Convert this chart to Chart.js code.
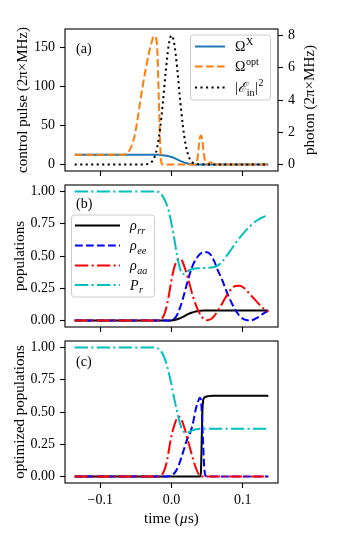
<!DOCTYPE html>
<html>
<head>
<meta charset="utf-8">
<script src="https://cdn.jsdelivr.net/npm/chart.js@4.4.0/dist/chart.umd.min.js"></script>
<style>
  body { margin: 0; background: #fff; }
  #wrap { position: relative; width: 340px; height: 540px; }
  canvas { position: absolute; left: 0; top: 0; }
</style>
</head>
<body>
<div id="wrap">
  <canvas id="chartA" width="340" height="540"></canvas>
  <canvas id="chartB" width="340" height="540"></canvas>
  <canvas id="chartC" width="340" height="540"></canvas>
</div>
<script>
// ticks
const xTicks = [-0.1, 0, 0.1];
const xTickLabels = ['\u22120.1', '0.0', '0.1'];
const ctrlTicks = [0, 50, 100, 150];
const ctrlTickLabels = ['0', '50', '100', '150'];
const photonTicks = [0, 2, 4, 6, 8];
const photonTickLabels = ['0', '2', '4', '6', '8'];
const popTicks = [0, 0.25, 0.5, 0.75, 1];
const popTickLabels = ['0.00', '0.25', '0.50', '0.75', '1.00'];

// panel (a)
const tOmegaX = [-0.136, -0.025, -0.02, -0.015, -0.01, -0.005, 0, 0.005, 0.01, 0.015, 0.02, 0.025, 0.03, 0.136];
const omegaX = [12.5, 12.5, 12.4, 12.2, 11.7, 10.9, 9.6, 7.8, 5.7, 3.7, 1.9, 0.7, 0.1, 0];
const tOmegaOpt = [-0.136, -0.068, -0.064, -0.06, -0.056, -0.052, -0.048, -0.044, -0.04, -0.036, -0.032, -0.028, -0.025, -0.022, -0.02, -0.018, -0.016, -0.0145, -0.013, 0.034, 0.036, 0.038, 0.04, 0.0415, 0.043, 0.045, 0.047, 0.049, 0.051, 0.054, 0.057, 0.06, 0.136];
const omegaOpt = [12.5, 12.5, 13.5, 16.5, 24, 36, 56, 80, 103, 123, 141, 156, 164, 162, 148, 90, 28, 4, 0, 0, 4, 20, 35, 37, 33, 17, 5, 1, 0, 3, 2, 0, 0];
const tPhoton = [-0.136, -0.044, -0.04, -0.036, -0.032, -0.028, -0.024, -0.02, -0.016, -0.012, -0.008, -0.004, 0, 0.004, 0.008, 0.012, 0.016, 0.02, 0.024, 0.028, 0.032, 0.036, 0.04, 0.044, 0.136];
const photon = [0, 0, 0.01, 0.02, 0.05, 0.16, 0.45, 1.08, 2.22, 3.89, 5.81, 7.38, 8.0, 7.45, 5.95, 4.05, 2.4, 1.2, 0.52, 0.19, 0.06, 0.02, 0.01, 0, 0];

// panel (b)
const tRrB = [-0.136, -0.002, 0.004, 0.008, 0.012, 0.016, 0.02, 0.024, 0.028, 0.032, 0.036, 0.04, 0.045, 0.05, 0.136];
const rrB = [0, 0, 0.004, 0.01, 0.018, 0.028, 0.04, 0.051, 0.06, 0.067, 0.072, 0.075, 0.077, 0.078, 0.078];
const tEeB = [-0.136, -0.004, 0, 0.004, 0.008, 0.012, 0.016, 0.02, 0.025, 0.03, 0.035, 0.04, 0.045, 0.05, 0.055, 0.06, 0.065, 0.07, 0.075, 0.08, 0.085, 0.09, 0.095, 0.1, 0.105, 0.11, 0.115, 0.12, 0.125, 0.13, 0.136];
const eeB = [0, 0, 0.003, 0.015, 0.045, 0.1, 0.17, 0.25, 0.35, 0.43, 0.48, 0.515, 0.53, 0.53, 0.51, 0.46, 0.39, 0.33, 0.26, 0.19, 0.13, 0.08, 0.04, 0.015, 0.004, 0.0, 0.006, 0.02, 0.038, 0.058, 0.075];
const tAaB = [-0.136, -0.018, -0.014, -0.01, -0.006, -0.002, 0.002, 0.006, 0.01, 0.014, 0.018, 0.022, 0.026, 0.03, 0.035, 0.04, 0.045, 0.05, 0.055, 0.06, 0.065, 0.07, 0.075, 0.08, 0.085, 0.09, 0.095, 0.1, 0.105, 0.11, 0.115, 0.12, 0.125, 0.13, 0.136];
const aaB = [0, 0, 0.01, 0.05, 0.13, 0.25, 0.37, 0.445, 0.478, 0.47, 0.42, 0.35, 0.27, 0.19, 0.11, 0.05, 0.015, 0.003, 0.01, 0.035, 0.075, 0.12, 0.17, 0.215, 0.25, 0.268, 0.27, 0.26, 0.235, 0.205, 0.175, 0.145, 0.115, 0.09, 0.07];
const tPrB = [-0.136, -0.024, -0.02, -0.016, -0.012, -0.008, -0.004, 0, 0.004, 0.008, 0.012, 0.016, 0.02, 0.025, 0.03, 0.04, 0.05, 0.06, 0.065, 0.07, 0.08, 0.09, 0.1, 0.11, 0.12, 0.13, 0.136];
const prB = [1.0, 1.0, 0.998, 0.99, 0.96, 0.915, 0.85, 0.75, 0.63, 0.5, 0.4, 0.36, 0.37, 0.39, 0.4, 0.405, 0.408, 0.415, 0.425, 0.45, 0.52, 0.6, 0.67, 0.73, 0.775, 0.805, 0.815];

// panel (c)
const tRrC = [-0.136, 0.0405, 0.0415, 0.0425, 0.0435, 0.0445, 0.046, 0.048, 0.052, 0.058, 0.136];
const rrC = [0, 0, 0.05, 0.3, 0.52, 0.59, 0.61, 0.618, 0.623, 0.625, 0.625];
const tEeC = [-0.136, -0.006, -0.002, 0.002, 0.006, 0.01, 0.014, 0.018, 0.022, 0.026, 0.03, 0.034, 0.037, 0.0395, 0.041, 0.042, 0.043, 0.044, 0.045, 0.046, 0.0475, 0.05, 0.136];
const eeC = [0, 0, 0.005, 0.015, 0.04, 0.085, 0.15, 0.22, 0.29, 0.335, 0.41, 0.52, 0.575, 0.61, 0.6, 0.55, 0.45, 0.32, 0.18, 0.07, 0.01, 0, 0];
const tAaC = [-0.136, -0.018, -0.014, -0.01, -0.006, -0.002, 0.002, 0.006, 0.01, 0.014, 0.018, 0.022, 0.026, 0.03, 0.034, 0.038, 0.041, 0.136];
const aaC = [0, 0, 0.01, 0.05, 0.13, 0.26, 0.36, 0.43, 0.465, 0.44, 0.38, 0.3, 0.22, 0.14, 0.07, 0.02, 0, 0];
const tPrC = [-0.136, -0.024, -0.02, -0.016, -0.012, -0.008, -0.004, 0, 0.004, 0.008, 0.012, 0.016, 0.02, 0.025, 0.03, 0.035, 0.04, 0.136];
const prC = [1.0, 1.0, 0.995, 0.98, 0.945, 0.89, 0.81, 0.71, 0.6, 0.5, 0.41, 0.355, 0.338, 0.345, 0.36, 0.367, 0.37, 0.37];

// legend labels (rich text pieces)
const labelsA = [
  [{t: '\u03a9'}, {t: 'X', sup: 1}],
  [{t: '\u03a9'}, {t: 'opt', sup: 1}],
  [{t: '|'}, {t: '\u2130', it: 1}, {t: 'in', sub: 1}, {t: '|'}, {t: '2', sup: 1}]
];
const labelsB = [
  [{t: '\u03c1', it: 1}, {t: 'rr', sub: 1, it: 1}],
  [{t: '\u03c1', it: 1}, {t: 'ee', sub: 1, it: 1}],
  [{t: '\u03c1', it: 1}, {t: 'aa', sub: 1, it: 1}],
  [{t: 'P', it: 1}, {t: 'r', sub: 1, it: 1}]
];
const timeTitle = [{t: 'time ('}, {t: '\u03bc', it: 1}, {t: 's)'}];

const FONT = '"Liberation Serif", "Times New Roman", serif';
Chart.defaults.font.family = FONT;
Chart.defaults.font.size = 14;
Chart.defaults.color = '#000';
Chart.defaults.animation = false;

const DASHED = [7.7, 3.3];
const DASHDOT = [13.3, 3.3, 2.1, 3.3];
const DOTTED = [2.1, 3.4];

function pts(t, v) {
  return t.map((x, i) => ({x: x, y: v[i]}));
}

function line(label, t, v, color, dash, order, axis) {
  return {
    label: label,
    data: pts(t, v),
    borderColor: color,
    borderDash: dash,
    borderWidth: 2,
    pointRadius: 0,
    cubicInterpolationMode: 'monotone',
    fill: false,
    order: order,
    yAxisID: axis || 'y'
  };
}

const tickGrid = { drawOnChartArea: false, drawTicks: true, tickLength: 5, tickWidth: 1.1, tickColor: '#000' };

function xAxis(h, showLabels) {
  return {
    type: 'linear', min: -0.1496, max: 0.1496,
    afterBuildTicks: s => { s.ticks = xTicks.map(v => ({value: v})); },
    afterFit: s => { s.height = h; },
    grid: tickGrid,
    border: { display: false },
    ticks: { display: showLabels, padding: 4, maxRotation: 0, autoSkip: false, callback: (v, i) => xTickLabels[i] }
  };
}

function yAxis(pos, min, max, vals, labels, w, title, titlePad) {
  return {
    type: 'linear', position: pos, min: min, max: max,
    afterBuildTicks: s => { s.ticks = vals.map(v => ({value: v})); },
    afterFit: s => { s.width = w; },
    grid: tickGrid,
    border: { display: false },
    ticks: { padding: 5, autoSkip: false, callback: (v, i) => labels[i] },
    title: { display: !!title, text: title, font: { size: 15 }, padding: { top: titlePad, bottom: 0 } }
  };
}

const decor = {
  chartA: {
    tag: '(a)', tagX: 76, tagY: 53,
    legend: { x: 190.5, y: 35, w: 80, h: 65, x0: 195, x1: 225, tx: 235, rows: [46.5, 66.5, 87.5] },
    labels: labelsA,
    rightTitle: { text: 'photon (2\u03c0\u00d7MHz)', x: 310, y: 100 }
  },
  chartB: {
    tag: '(b)', tagX: 76, tagY: 207.5,
    legend: { x: 71.5, y: 215, w: 83, h: 82, x0: 75, x1: 120, tx: 130, rows: [225.5, 245.5, 265.5, 285] },
    labels: labelsB
  },
  chartC: { tag: '(c)', tagX: 76, tagY: 366, bottomTitle: { parts: timeTitle, x: 171.7, y: 523 } }
};

function richWidth(ctx, parts, size) {
  let w = 0;
  parts.forEach(p => {
    const s = (p.sub || p.sup) ? size * 0.72 : size;
    ctx.font = (p.it ? 'italic ' : '') + s + 'px ' + FONT;
    w += ctx.measureText(p.t).width + 0.5;
  });
  return w;
}

function drawRich(ctx, parts, x, y, size) {
  size = size || 14;
  parts.forEach(p => {
    const s = (p.sub || p.sup) ? size * 0.72 : size;
    ctx.font = (p.it ? 'italic ' : '') + s + 'px ' + FONT;
    const dy = p.sub ? 3.5 : p.sup ? -6 : 0;
    ctx.fillText(p.t, x, y + dy);
    x += ctx.measureText(p.t).width + 0.5;
  });
}

const panelDecor = {
  id: 'panelDecor',
  afterDatasetsDraw(chart) {
    const d = decor[chart.canvas.id];
    const ctx = chart.ctx, a = chart.chartArea;
    ctx.save();
    ctx.setLineDash([]);
    ctx.strokeStyle = '#000';
    ctx.lineWidth = 1.1;
    ctx.strokeRect(a.left, a.top, a.right - a.left, a.bottom - a.top);
    ctx.fillStyle = '#000';
    ctx.textBaseline = 'alphabetic';
    ctx.textAlign = 'left';
    ctx.font = '14px ' + FONT;
    ctx.fillText(d.tag, d.tagX, d.tagY);
    if (d.rightTitle) {
      ctx.save();
      ctx.translate(d.rightTitle.x, d.rightTitle.y);
      ctx.rotate(-Math.PI / 2);
      ctx.font = '15px ' + FONT;
      ctx.textAlign = 'center';
      ctx.textBaseline = 'middle';
      ctx.fillText(d.rightTitle.text, 0, 0);
      ctx.restore();
    }
    if (d.bottomTitle) {
      const b = d.bottomTitle;
      const w = richWidth(ctx, b.parts, 15);
      drawRich(ctx, b.parts, b.x - w / 2, b.y, 15);
    }
    if (d.legend) {
      const L = d.legend;
      ctx.beginPath();
      ctx.roundRect(L.x, L.y, L.w, L.h, 3);
      ctx.fillStyle = 'rgba(255,255,255,0.8)';
      ctx.fill();
      ctx.strokeStyle = '#cccccc';
      ctx.lineWidth = 1;
      ctx.stroke();
      L.rows.forEach((ry, i) => {
        const ds = chart.data.datasets[i];
        ctx.beginPath();
        ctx.setLineDash(ds.borderDash || []);
        ctx.strokeStyle = ds.borderColor;
        ctx.lineWidth = ds.borderWidth;
        ctx.moveTo(L.x0, ry);
        ctx.lineTo(L.x1, ry);
        ctx.stroke();
        ctx.setLineDash([]);
        ctx.fillStyle = '#000';
        drawRich(ctx, d.labels[i], L.tx, ry + 4.7);
      });
    }
    ctx.restore();
  }
};

const baseOpts = {
  responsive: false,
  animation: false,
  plugins: { legend: { display: false }, tooltip: { enabled: false } }
};

new Chart(document.getElementById('chartA'), {
  type: 'line',
  data: {
    datasets: [
      line('\u03a9X', tOmegaX, omegaX, '#1f77b4', [], 3),
      line('\u03a9opt', tOmegaOpt, omegaOpt, '#ff7f0e', DASHED, 2),
      line('|E_in|^2', tPhoton, photon, '#000000', DOTTED, 1, 'y2')
    ]
  },
  options: Object.assign({}, baseOpts, {
    layout: { padding: { top: 29, left: 0, right: 0, bottom: 0 } },
    scales: {
      x: xAxis(369, false),
      y: yAxis('left', -8.25, 173.25, ctrlTicks, ctrlTickLabels, 65, 'control pulse (2\u03c0\u00d7MHz)', 14),
      y2: yAxis('right', -0.4, 8.4, photonTicks, photonTickLabels, 62, '', 0)
    }
  }),
  plugins: [panelDecor]
});

new Chart(document.getElementById('chartB'), {
  type: 'line',
  data: {
    datasets: [
      line('rho_rr', tRrB, rrB, '#000000', [], 4),
      line('rho_ee', tEeB, eeB, '#0000ff', DASHED, 3),
      line('rho_aa', tAaB, aaB, '#ff0000', DASHDOT, 2),
      line('P_r', tPrB, prB, '#00bfbf', DASHDOT, 1)
    ]
  },
  options: Object.assign({}, baseOpts, {
    layout: { padding: { top: 185, left: 0, right: 62, bottom: 0 } },
    scales: {
      x: xAxis(213, false),
      y: yAxis('left', -0.05, 1.05, popTicks, popTickLabels, 65, 'populations', 11)
    }
  }),
  plugins: [panelDecor]
});

new Chart(document.getElementById('chartC'), {
  type: 'line',
  data: {
    datasets: [
      line('rho_rr', tRrC, rrC, '#000000', [], 4),
      line('rho_ee', tEeC, eeC, '#0000ff', DASHED, 3),
      line('rho_aa', tAaC, aaC, '#ff0000', DASHDOT, 2),
      line('P_r', tPrC, prC, '#00bfbf', DASHDOT, 1)
    ]
  },
  options: Object.assign({}, baseOpts, {
    layout: { padding: { top: 341, left: 0, right: 62, bottom: 0 } },
    scales: {
      x: xAxis(57, true),
      y: yAxis('left', -0.05, 1.05, popTicks, popTickLabels, 65, 'optimized populations', 11)
    }
  }),
  plugins: [panelDecor]
});
</script>
</body>
</html>
